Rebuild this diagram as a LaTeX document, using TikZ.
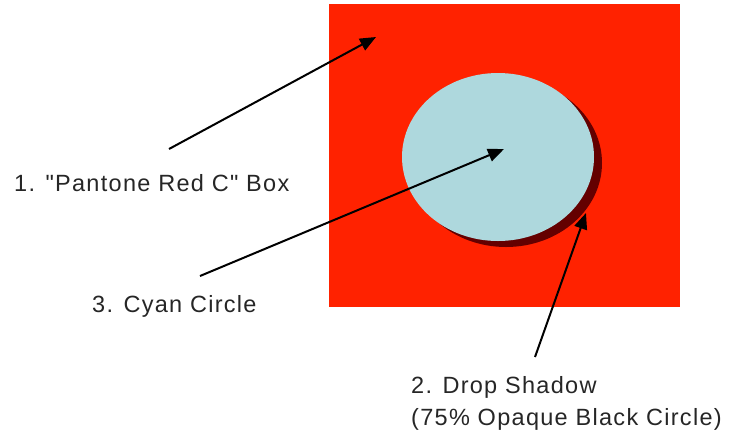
\documentclass[tikz,border=0pt]{standalone}
\usepackage{fontspec}
\setmainfont{Liberation Sans}[LetterSpace=5.5, Ligatures=TeXOff]
\usetikzlibrary{arrows.meta}
\definecolor{pantonered}{RGB}{255,34,0}
\definecolor{cyancircle}{RGB}{174,216,221}
\definecolor{shadowred}{RGB}{100,0,0}
\tikzset{
  lbl/.style={anchor=base west, inner sep=0pt, font=\fontsize{23.5}{32}\selectfont, text=black!85},
  pointer/.style={draw=black, line width=2pt, -{Triangle[length=16pt,width=13pt]}},
}
\begin{document}
\begin{tikzpicture}[x=1pt,y=-1pt]
\useasboundingbox (0,0) rectangle (731,432);
% red box
\fill[pantonered] (329,4) rectangle (680,307);
% drop shadow
\fill[shadowred] (506,163) ellipse [x radius=96, y radius=84];
% cyan circle
\fill[cyancircle] (498,157) ellipse [x radius=96, y radius=84];
% labels
\node[lbl] (t1) at (14,191) {1. "Pantone Red C" Box};
\node[lbl] (t3) at (92,312) {3. Cyan Circle};
\node[lbl] (t2a) at (411,393) {2. Drop Shadow};
\node[lbl] (t2b) at (411,425) {(75\% Opaque Black Circle)};
% connector ends
\coordinate (s1) at (169,149);
\coordinate (e1) at (376,37);
\coordinate (s3) at (200,276);
\coordinate (e3) at (504,149);
\coordinate (s2) at (535,357);
\coordinate (e2) at (586,213);
\draw[pointer] (s1) -- (e1);
\draw[pointer] (s3) -- (e3);
\draw[pointer] (s2) -- (e2);
\end{tikzpicture}
\end{document}
